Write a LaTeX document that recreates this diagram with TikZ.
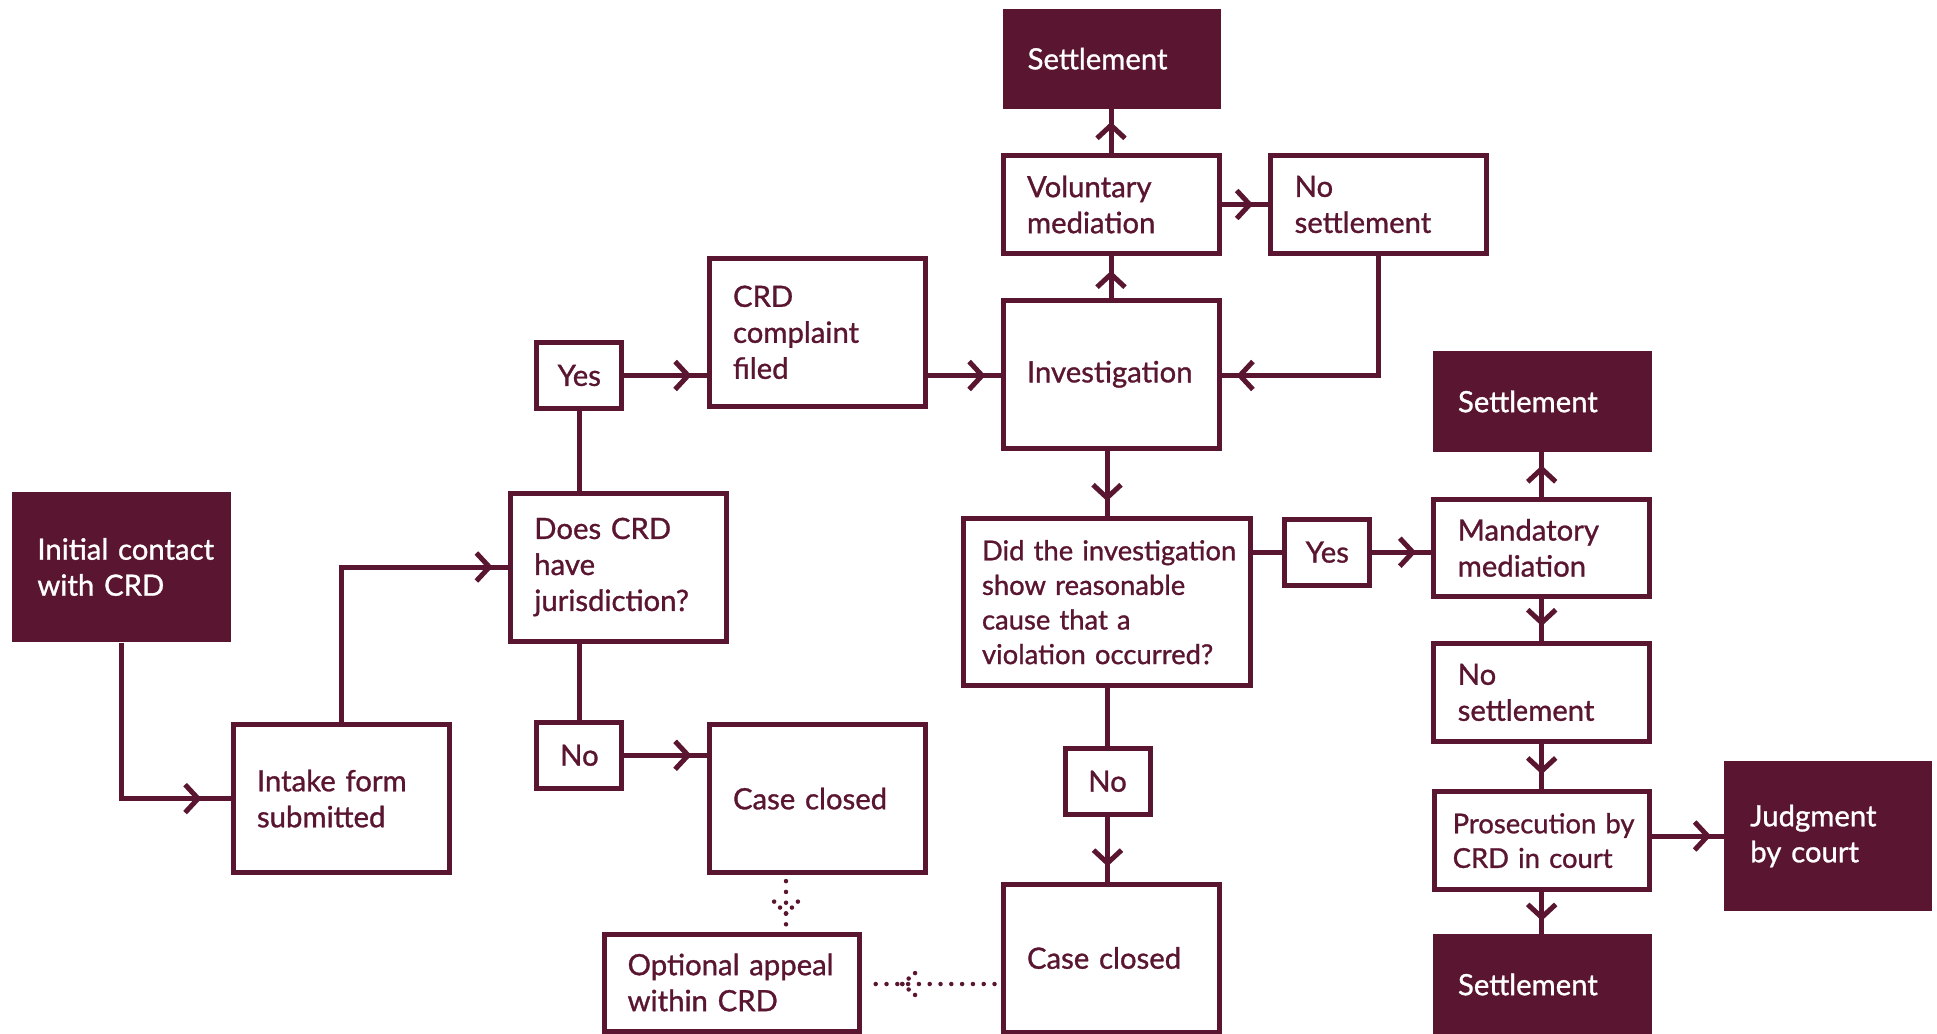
\documentclass[tikz,border=0pt]{standalone}
\usepackage{fontspec}
\setmainfont{Lato}[FakeBold=1]
\usetikzlibrary{arrows.meta,decorations.markings,calc}
\definecolor{crd}{HTML}{5A1530}
\newcommand\lbx[1]{\mbox{#1}}
\begin{document}
\begin{tikzpicture}[x=1pt,y=1pt,
  every node/.style={font=\fontsize{29.3}{36}\selectfont},
  sbox/.style={draw=crd, line width=5pt, fill=white, text=crd, inner xsep=24pt, inner ysep=0pt, align=left},
  lbox/.style={sbox, text width=168pt, minimum height=148pt},
  mbox/.style={sbox, text width=168pt, minimum height=97.5pt},
  tbox/.style={draw=crd, line width=5pt, fill=white, text=crd, inner sep=0pt, minimum width=85pt, minimum height=66pt, align=center},
  fbox/.style={fill=crd, text=white, inner xsep=25pt, inner ysep=0pt, align=left},
  smalltext/.style={font=\fontsize{27.4}{34.6}\selectfont},
  conn/.style={crd, line width=5pt},
  arr/.style={conn, postaction={decorate}, decoration={markings, mark=at position -#1 with {\arrow{Straight Barb[length=13pt,width=28pt]}}}},
  arr/.default=15pt,
  dotl/.style={crd, line width=4.5pt, line cap=round, dash pattern=on 0pt off 10.8pt},
  dotc/.style={crd, line width=4.5pt, line cap=round, dash pattern=on 0pt off 8.4pt}
]
\useasboundingbox (0,0) rectangle (1937,-1033);

% nodes
\node[fbox, text width=168.6pt, minimum height=150.8pt] (init) at (121.7,-567) {\lbx{Initial contact}\\\lbx{with CRD}};
\node[lbox] (intake) at (341,-798.6) {\lbx{Intake form}\\\lbx{submitted}};
\node[lbox] (does) at (618.3,-567) {\lbx{Does CRD}\\have\\jurisdiction?};
\node[tbox] (yes1) at (579.3,-375.5) {Yes};
\node[lbox] (crd) at (817,-332.3) {CRD\\complaint\\filed};
\node[lbox] (inv) at (1111,-374.3) {Investigation};
\node[mbox] (vol) at (1111,-204.5) {Voluntary\\mediation};
\node[fbox, text width=168.7pt, minimum height=100pt] (set1) at (1112,-58.7) {Settlement};
\node[mbox] (noset1) at (1378.6,-204.5) {No\\settlement};
\node[sbox, smalltext, inner xsep=18.5pt, text width=250pt, minimum height=167pt] (did) at (1107,-602.2) {\lbx{Did the investigation}\\\lbx{show reasonable}\\\lbx{cause that a}\\\lbx{violation occurred?}};
\node[tbox] (yes2) at (1327.3,-552.2) {Yes};
\node[mbox] (mand) at (1541.7,-547.9) {Mandatory\\mediation};
\node[fbox, text width=168.6pt, minimum height=101.3pt] (set2) at (1542.3,-401.5) {Settlement};
\node[mbox] (noset2) at (1541.7,-692.4) {No\\settlement};
\node[sbox, smalltext, inner xsep=18.5pt, text width=178pt, minimum height=97.5pt] (pros) at (1541.7,-840.6) {\lbx{Prosecution by}\\\lbx{CRD in court}};
\node[fbox, text width=168.6pt, minimum height=101pt] (set3) at (1542.3,-984.5) {Settlement};
\node[fbox, inner xsep=26pt, text width=155.5pt, minimum height=150.6pt] (judg) at (1828,-836) {Judgment\\\lbx{by court}};
\node[tbox] (no1) at (579.4,-755.3) {No};
\node[lbox] (cc1) at (817,-798.6) {\lbx{Case closed}};
\node[sbox, inner xsep=23.4pt, text width=208.8pt, minimum height=97pt] (opt) at (732,-982.5) {\lbx{Optional appeal}\\\lbx{within CRD}};
\node[tbox] (no2) at (1107.5,-781.3) {No};
\node[lbox] (cc2) at (1111,-958) {\lbx{Case closed}};

% connectors
\draw[arr=29pt] (init.south) |- (intake.west);
\draw[arr] (intake.north) |- (does.west);
\draw[conn] (yes1.south) -- (yes1.south |- does.north);
\draw[arr] (yes1.east) -- (yes1.east -| crd.west);
\draw[arr] (crd.east |- yes1.east) -- (inv.west |- yes1.east);
\draw[arr] (inv.north) -- (vol.south);
\draw[arr=13pt] (vol.north) -- (vol.north |- set1.south);
\draw[arr] (vol.east) -- (noset1.west);
\draw[arr] (noset1.south) |- (inv.east |- yes1.east);
\draw[arr] (inv.south -| did.north) -- (did.north);
\draw[conn] (did.east |- yes2.west) -- (yes2.west);
\draw[arr] (yes2.east) -- (yes2.east -| mand.west);
\draw[arr=13pt] (mand.north) -- (mand.north |- set2.south);
\draw[arr] (mand.south) -- (noset2.north);
\draw[arr] (noset2.south) -- (pros.north);
\draw[arr=13pt] (pros.south) -- (pros.south |- set3.north);
\draw[arr=13pt] (pros.east |- judg.west) -- (judg.west);
\draw[conn] (does.south -| no1.north) -- (no1.north);
\draw[arr] (no1.east) -- (no1.east -| cc1.west);
\draw[conn] (did.south -| no2.north) -- (no2.north);
\draw[arr] (no2.south) -- (no2.south |- cc2.north);

% dotted connectors to the appeal
\coordinate (dvt) at ($(cc1.south)+(-31,0)$);
\coordinate (dvb) at (dvt |- opt.north);
\coordinate (dva) at ($(dvb)+(0,18)$);
\draw[dotl, shorten <=6pt, shorten >=4pt] (dvt) -- (dvb);
\draw[dotc] (dva) -- ++(-12,12);
\draw[dotc] (dva) -- ++(12,12);

\coordinate (dhr) at (cc2.west |- 0,-984);
\coordinate (dhl) at (dhr -| opt.east);
\coordinate (dha) at ($(dhl)+(40,0)$);
\draw[dotl, shorten <=6pt, shorten >=5pt] (dhr) -- (dhl);
\draw[dotc] (dha) -- ++(14,12);
\draw[dotc] (dha) -- ++(14,-12);
\end{tikzpicture}
\end{document}
